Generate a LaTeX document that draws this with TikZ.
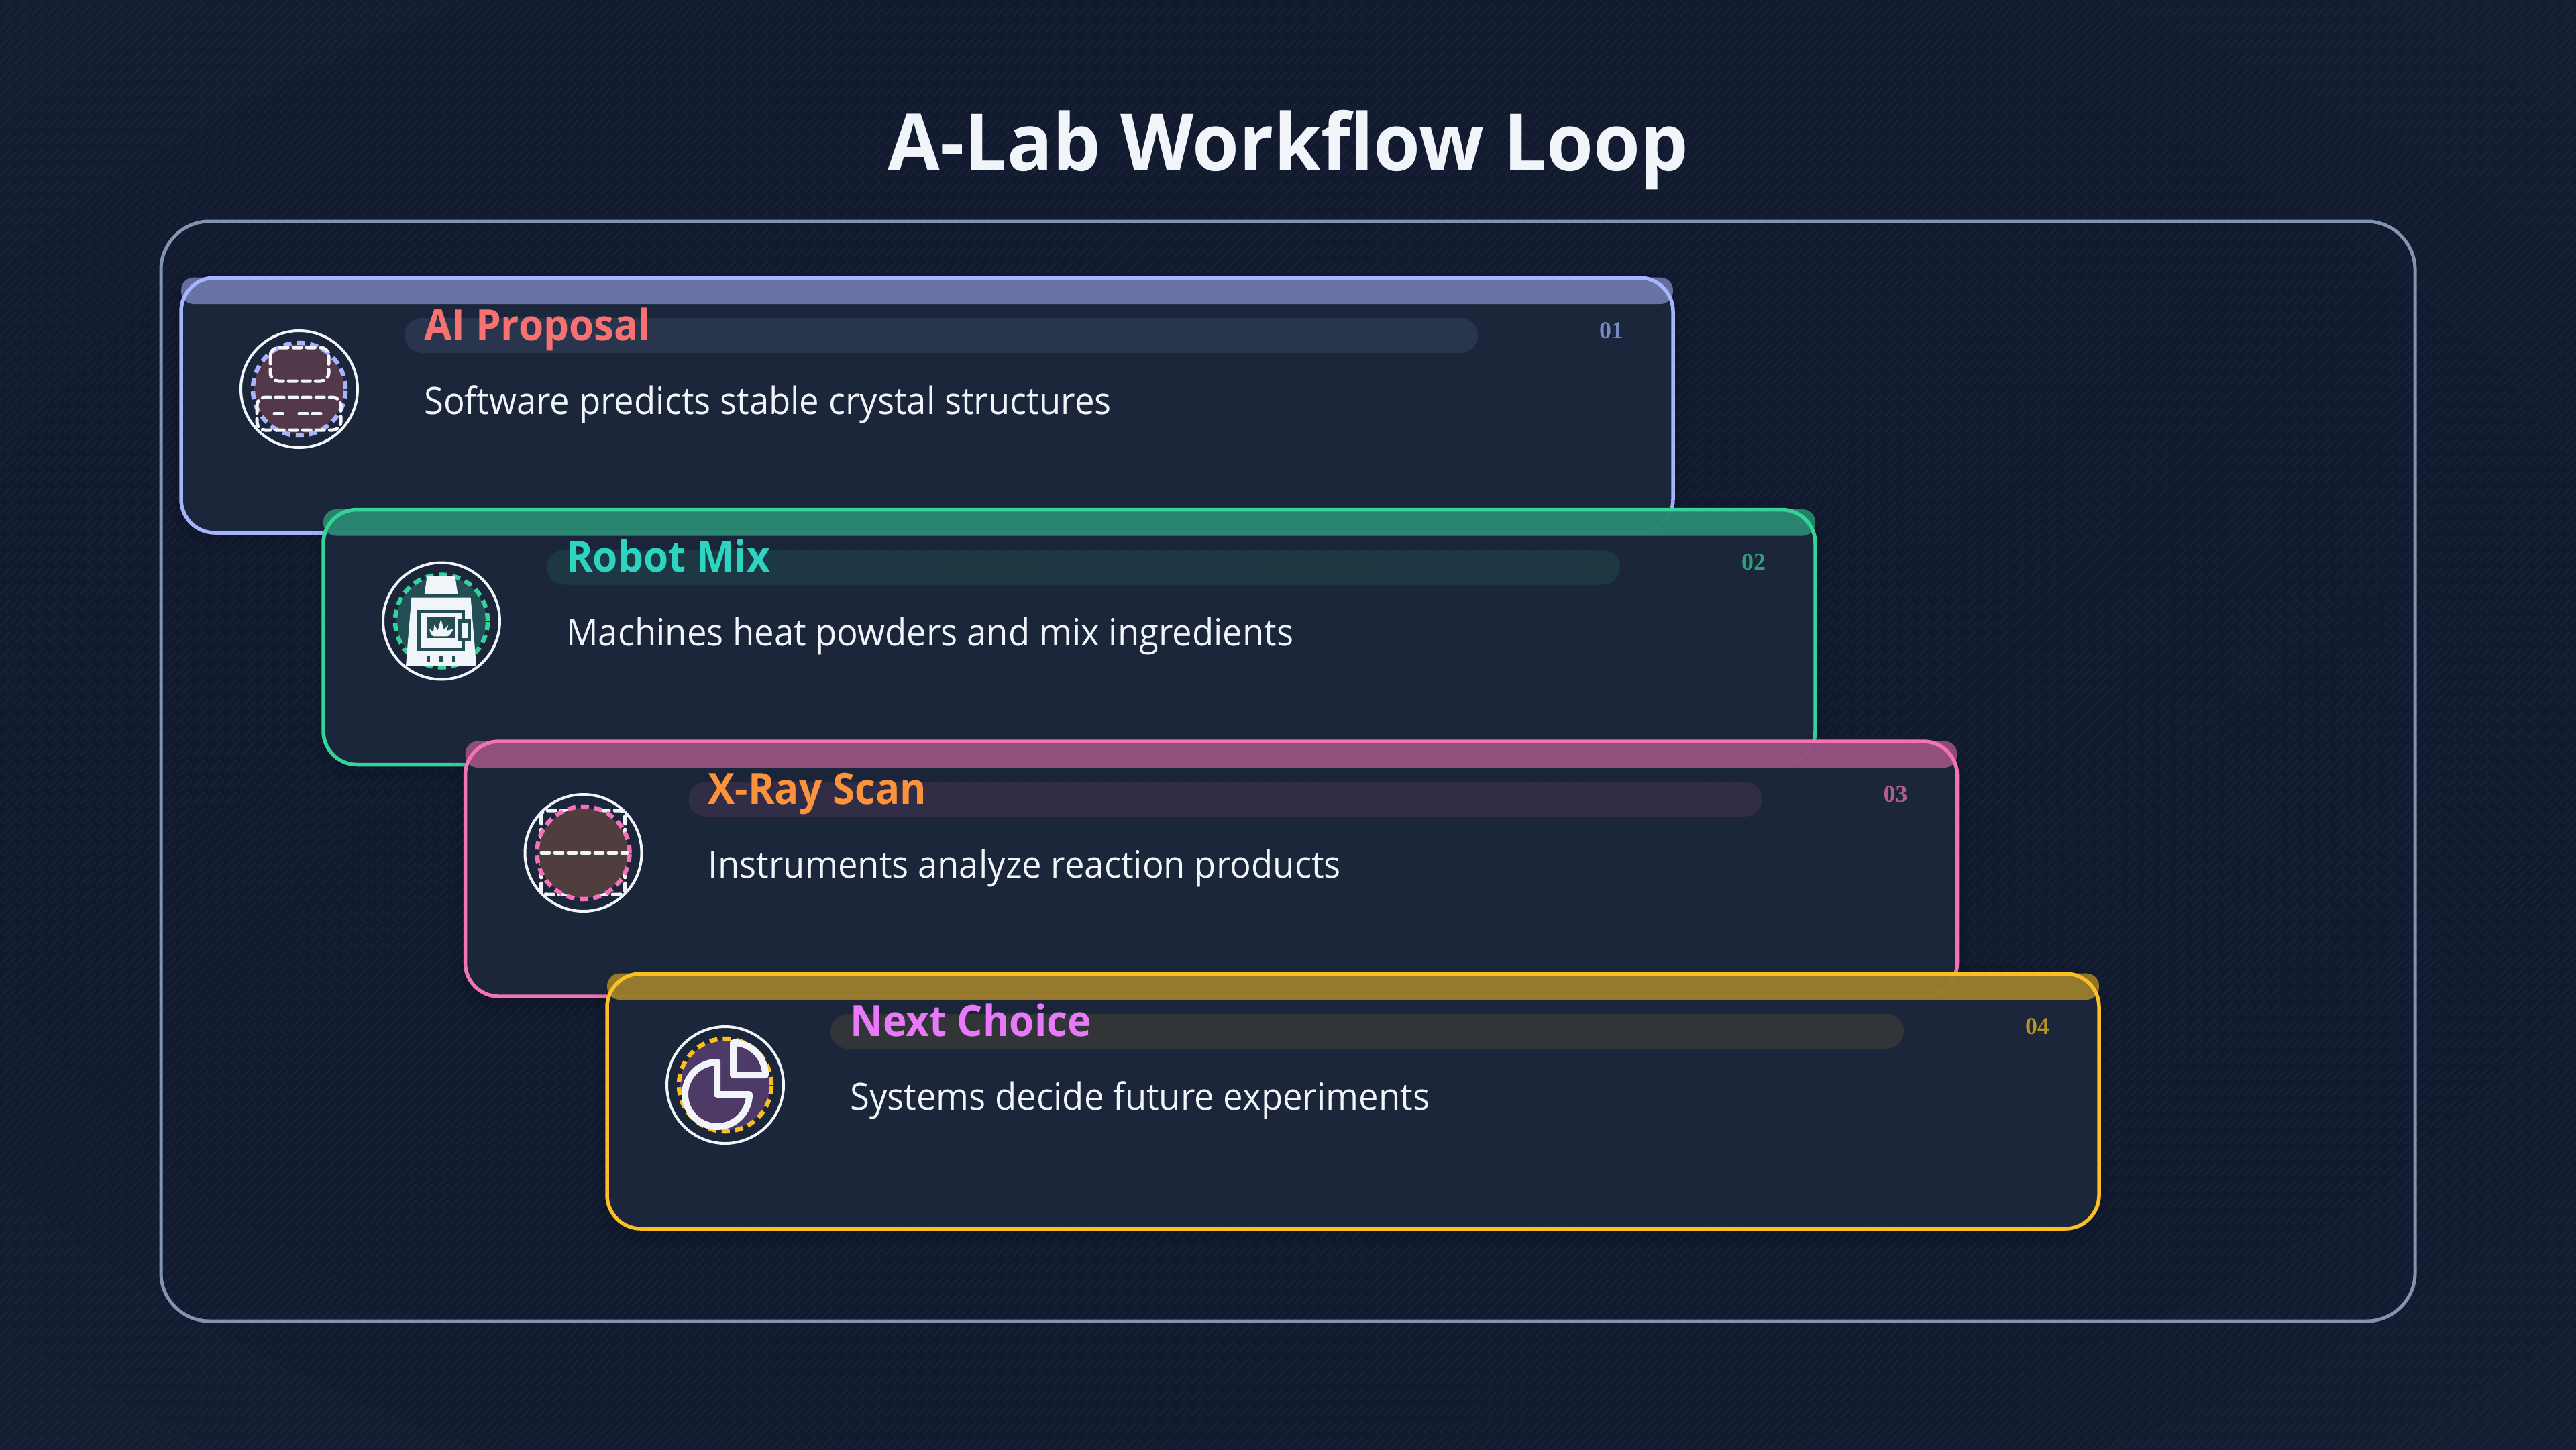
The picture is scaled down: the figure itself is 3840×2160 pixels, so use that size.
\documentclass[tikz,border=0pt]{standalone}
\usepackage{fontspec}
\usetikzlibrary{patterns,calc,shadows.blur}
\setmainfont[FakeStretch=0.94]{Open Sans}
\newfontfamily\titlefont[FakeStretch=0.958]{Open Sans}
\newfontfamily\numfont{Liberation Serif}

\definecolor{bgcore}{RGB}{17,26,47}
\definecolor{bgmid}{RGB}{22,31,52}
\definecolor{bgedge}{RGB}{30,39,60}
\definecolor{framecol}{RGB}{130,148,175}
\definecolor{cardfill}{RGB}{28,39,60}
\definecolor{inkwhite}{RGB}{241,245,249}
\definecolor{acA}{RGB}{165,180,252}
\definecolor{acB}{RGB}{52,211,153}
\definecolor{acC}{RGB}{244,114,182}
\definecolor{acD}{RGB}{251,191,36}
\definecolor{headA}{RGB}{248,113,113}
\definecolor{headB}{RGB}{45,212,191}
\definecolor{headC}{RGB}{251,146,60}
\definecolor{headD}{RGB}{232,121,249}
\definecolor{coreA}{RGB}{82,56,72}
\definecolor{coreB}{RGB}{36,78,85}
\definecolor{coreC}{RGB}{80,62,62}
\definecolor{coreD}{RGB}{77,58,102}

\pgfdeclareradialshading{vignette}{\pgfpoint{0bp}{0bp}}{color(0bp)=(bgcore); color(25bp)=(bgcore); color(40bp)=(bgmid); color(50bp)=(bgedge)}
\pgfdeclarepatternformonly{hatchtile}{\pgfqpoint{0pt}{0pt}}{\pgfqpoint{24pt}{24pt}}{\pgfqpoint{24pt}{24pt}}{%
    \pgfsetlinewidth{1.6pt}%
    \pgfpathmoveto{\pgfqpoint{0pt}{2pt}}\pgfpathlineto{\pgfqpoint{20pt}{22pt}}%
    \pgfpathmoveto{\pgfqpoint{10pt}{0pt}}\pgfpathlineto{\pgfqpoint{24pt}{14pt}}%
    \pgfusepath{stroke}}

\begin{document}
\begin{tikzpicture}[
        x=1pt, y=-1pt,
        % Block styles
        frame/.style={
            rectangle,
            draw=framecol,
            line width=5pt,
            rounded corners=72pt,
            minimum width=3360pt,
            minimum height=1639pt,
            outer sep=0pt,
            anchor=north west
        },
        cardback/.style={
            rectangle,
            fill=cardfill,
            fill opacity=0.95,
            rounded corners=50pt,
            minimum width=2224pt,
            minimum height=380pt,
            outer sep=0pt,
            anchor=north west,
            blur shadow={shadow xshift=0pt, shadow yshift=-8pt, shadow opacity=22, shadow blur radius=20pt}
        },
        cardline/.style={
            rectangle,
            draw=#1,
            line width=5.5pt,
            rounded corners=50pt,
            minimum width=2224pt,
            minimum height=380pt,
            outer sep=0pt,
            anchor=north west
        },
        topbar/.style={
            rectangle,
            fill=#1,
            fill opacity=0.55,
            rounded corners=19pt,
            minimum width=2224pt,
            minimum height=39.5pt,
            outer sep=0pt,
            anchor=north west
        },
        pill/.style={
            rectangle,
            fill=#1,
            fill opacity=0.1,
            rounded corners=26pt,
            minimum width=1600pt,
            minimum height=52pt,
            outer sep=0pt,
            anchor=north west
        },
        heading/.style={
            font=\fontsize{64}{70}\selectfont\bfseries,
            text=#1,
            inner sep=0pt,
            anchor=base west
        },
        caption/.style={
            font=\fontsize{56}{64}\selectfont,
            text=inkwhite,
            inner sep=0pt,
            anchor=base west
        },
        stepnum/.style={
            font=\fontsize{36}{40}\selectfont\numfont\bfseries,
            text=#1,
            text opacity=0.7,
            inner sep=0pt,
            anchor=base west
        },
        iconring/.style={
            circle,
            draw=inkwhite,
            line width=4pt,
            minimum size=174pt,
            inner sep=0pt,
            outer sep=0pt
        },
        iconcore/.style={
            circle,
            fill=#1,
            minimum size=134pt,
            inner sep=0pt,
            outer sep=0pt
        },
        icondash/.style={
            circle,
            draw=#1,
            line width=6.5pt,
            dash pattern=on 12pt off 8pt,
            minimum size=138pt,
            inner sep=0pt,
            outer sep=0pt
        },
        whitedash/.style={
            draw=inkwhite,
            line width=5pt,
            line cap=round,
            dash pattern=on 12pt off 8pt
        },
        whitesolid/.style={
            draw=inkwhite,
            line width=10pt,
            line join=round,
            line cap=round
        },
        flow/.style={white, line width=3pt, opacity=0.2}
    ]

    % Background
    \useasboundingbox (0,0) rectangle (3840,2160);
    \shade[shading=vignette] (0,0) rectangle (3840,2160);
    \fill[pattern=hatchtile, pattern color=white, opacity=0.045] (0,0) rectangle (3840,2160);

    % Title and frame
    \node[font=\fontsize{118}{130}\selectfont\titlefont\bfseries, text=inkwhite, inner sep=0pt, anchor=base] (title) at (1920,254) {A-Lab Workflow Loop};
    \node[frame] (panel) at (240,330) {};

    % Faint links under the cards
    \coordinate (linkA) at (446,580);
    \coordinate (linkB) at (658,925);
    \coordinate (linkC) at (869,1271);
    \draw[flow] (linkA) .. controls (560,600) and (640,700) .. (730,960);
    \draw[flow] (linkB) .. controls (772,945) and (852,1045) .. (942,1305);
    \draw[flow] (linkC) .. controls (983,1291) and (1063,1391) .. (1153,1651);

    % AI Proposal
    \node[cardback] (ai) at (270,414) {};
    \node[topbar=acA] (aibar) at (270,413.5) {};
    \node[cardline=acA] (aiedge) at (ai.north west) {};
    \node[pill=acA] (aipill) at ([xshift=333pt,yshift=-60pt]ai.north west) {};
    \node[heading=headA] (aihead) at (632,507) {AI Proposal};
    \node[caption] (aitext) at (632,617) {Software predicts stable crystal structures};
    \node[stepnum=acA] (ainum) at (2384,504) {01};
    \node[iconring] (aiicon) at ([xshift=176pt,yshift=-166pt]ai.north west) {};
    \node[iconcore=coreA] (aicore) at (aiicon) {};
    \node[icondash=acA] (aidash) at (aiicon) {};
    \draw[whitedash, rounded corners=12pt] (403,518) rectangle (490,568);
    \draw[whitedash, rounded corners=12pt] (383,592) rectangle (508,641);
    \draw[whitedash] (409,616) -- (421,616);
    \draw[whitedash] (446,616) -- (478,616);

    % Robot Mix
    \node[cardback] (robot) at (482,759.5) {};
    \node[topbar=acB] (robotbar) at (482,759) {};
    \node[cardline=acB] (robotedge) at (robot.north west) {};
    \node[pill=acB] (robotpill) at ([xshift=333pt,yshift=-60pt]robot.north west) {};
    \node[heading=headB] (robothead) at (844,852.5) {Robot Mix};
    \node[caption] (robottext) at (844,962.5) {Machines heat powders and mix ingredients};
    \node[stepnum=acB] (robotnum) at (2596,849.5) {02};
    \node[iconring] (roboticon) at ([xshift=176pt,yshift=-166pt]robot.north west) {};
    \node[iconcore=coreB] (robotcore) at (roboticon) {};
    \node[icondash=acB] (robotdash) at (roboticon) {};
    \fill[inkwhite] (636.7,858.3) -- (678.3,858.3) -- (682.3,885.3) -- (632.7,885.3) -- cycle;
    \fill[inkwhite] (613.3,890.7) -- (701.7,890.7) -- (710,992.3) -- (605,992.3) -- cycle;
    \fill[coreB] (622.3,909.3) rectangle (692.7,970);
    \fill[inkwhite] (627.3,914.3) rectangle (687.7,965);
    \fill[coreB] (636.3,918.7) rectangle (679,951.3);
    \fill[coreB] (683.3,923) rectangle (702,955.7);
    \fill[inkwhite] (688,928) rectangle (697,950.7);
    \fill[coreB] (636.3,976.7) rectangle (641.3,985.7);
    \fill[coreB] (655,976.7) rectangle (660,985.7);
    \fill[coreB] (673.7,976.7) rectangle (678.7,985.7);
    \fill[inkwhite] (640,937.3) -- (646,941.7) -- (647.3,931.7) -- (652.7,939.3) -- (657.3,922.7)
        -- (661.7,938.3) -- (668.3,931.7) -- (666,940) -- (676,937.3)
        .. controls (673,943) and (670,948.3) .. (666.7,948.3)
        -- (646.7,948.3) .. controls (643,948) and (641,942) .. cycle;

    % X-Ray Scan
    \node[cardback] (xray) at (693.5,1105) {};
    \node[topbar=acC] (xraybar) at (693.5,1104.5) {};
    \node[cardline=acC] (xrayedge) at (xray.north west) {};
    \node[pill=acC] (xraypill) at ([xshift=333pt,yshift=-60pt]xray.north west) {};
    \node[heading=headC] (xrayhead) at (1055.5,1198) {X-Ray Scan};
    \node[caption] (xraytext) at (1055.5,1308) {Instruments analyze reaction products};
    \node[stepnum=acC] (xraynum) at (2807.5,1195) {03};
    \node[iconring] (xrayicon) at ([xshift=176pt,yshift=-166pt]xray.north west) {};
    \draw[whitedash, rounded corners=8pt] (806.7,1208) rectangle (931.7,1333);
    \node[iconcore=coreC] (xraycore) at (xrayicon) {};
    \node[icondash=acC] (xraydash) at (xrayicon) {};
    \draw[whitedash] (807,1271) -- (935,1271);

    % Next Choice
    \node[cardback] (next) at (905,1451) {};
    \node[topbar=acD] (nextbar) at (905,1450.5) {};
    \node[cardline=acD] (nextedge) at (next.north west) {};
    \node[pill=acD] (nextpill) at ([xshift=333pt,yshift=-60pt]next.north west) {};
    \node[heading=headD] (nexthead) at (1267,1544) {Next Choice};
    \node[caption] (nexttext) at (1267,1654) {Systems decide future experiments};
    \node[stepnum=acD] (nextnum) at (3019,1541) {04};
    \node[iconring] (nexticon) at ([xshift=176pt,yshift=-166pt]next.north west) {};
    \node[iconcore=coreD] (nextcore) at (nexticon) {};
    \node[icondash=acD] (nextdash) at (nexticon) {};
    \draw[whitesolid] (1069,1583) -- (1069,1631) -- (1117,1631) arc[start angle=0, end angle=-270, radius=48pt];
    \draw[whitesolid] (1093,1602) -- (1093,1554) arc[start angle=90, end angle=0, radius=48pt] -- cycle;

\end{tikzpicture}
\end{document}
